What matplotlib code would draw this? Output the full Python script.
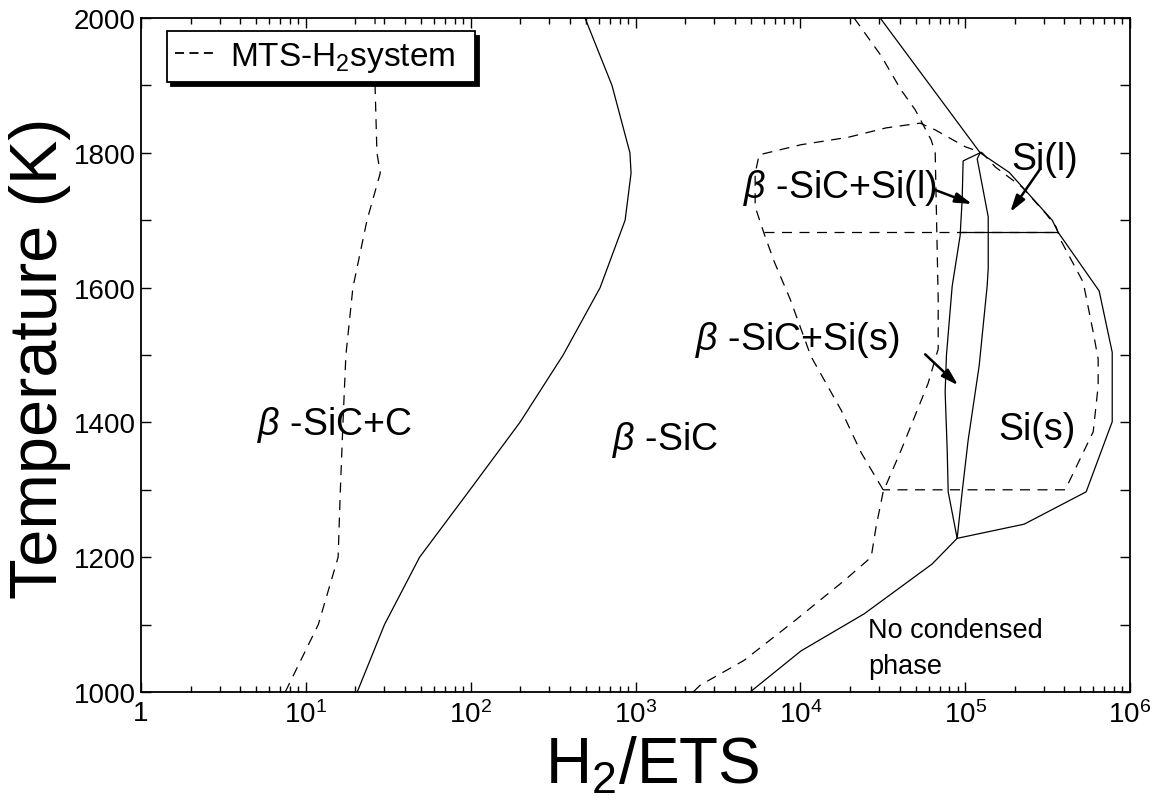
import matplotlib
matplotlib.use('Agg')
import matplotlib.pyplot as plt
from matplotlib.lines import Line2D
from matplotlib.ticker import LogLocator, NullFormatter, FixedLocator, FixedFormatter

plt.rcParams['font.family'] = ['Liberation Sans', 'DejaVu Sans']
plt.rcParams['mathtext.fontset'] = 'custom'
plt.rcParams['mathtext.rm'] = 'Liberation Sans'
plt.rcParams['mathtext.it'] = 'Liberation Sans:italic'
plt.rcParams['mathtext.bf'] = 'Liberation Sans:bold'

# ---------------- data (T in K, x = H2/ETS) ----------------
# H2-ETS system (solid lines)
c_bound_T = [1000, 1100, 1200, 1300, 1400, 1500, 1600, 1700, 1770, 1800, 1900, 2000]
c_bound_x = [20.5, 30, 49, 99, 199, 364, 610, 865, 940, 925, 720, 494]

outer_T = [2000, 1800, 1771, 1700, 1682, 1595, 1504, 1401, 1297, 1249, 1228, 1190, 1116, 1061, 1000]
outer_x = [30500, 123300, 184900, 337400, 366600, 650000, 780000, 780000, 542000, 228000, 89400, 63100, 24400, 10100, 4960]

inner_left_T = [1800, 1788, 1731, 1677, 1602, 1500, 1445, 1359, 1297, 1228]
inner_left_x = [123300, 97200, 95900, 93200, 83400, 77000, 75600, 77800, 78900, 89400]

inner_right_T = [1800, 1791, 1705, 1628, 1602, 1484, 1374, 1297, 1228]
inner_right_x = [123300, 118300, 138000, 138000, 135900, 121600, 104300, 95900, 89400]

melt_T = [1683, 1683]
melt_x = [93200, 366600]

# MTS-H2 system (dashed lines)
mts_c_T = [1000, 1100, 1200, 1300, 1400, 1500, 1600, 1700, 1770, 1800, 1900, 2000]
mts_c_x = [7.5, 11.9, 15.7, 16.2, 16.8, 17.5, 19.3, 23.5, 28.3, 27.0, 26.3, 26.3]

mts_nc_T = [2000, 1944, 1893, 1864, 1819, 1800, 1583, 1509, 1458, 1359, 1297, 1245, 1200, 1165, 1105, 1047, 1010, 1000]
mts_nc_x = [21200, 30900, 40900, 49700, 62200, 65800, 68600, 68600, 59600, 40900, 31800, 28800, 26900, 18400, 9170, 4560, 2466, 2238]

mts_si_T = [1300, 1355, 1418, 1498, 1583, 1639, 1680, 1720, 1769, 1797, 1812, 1823, 1837, 1844, 1834, 1809,
            1800, 1779, 1749, 1709, 1690, 1672, 1608, 1534, 1494, 1454, 1386, 1300, 1300]
mts_si_x = [31800, 23400, 17700, 11600, 8670, 6930, 6030, 5320, 5320, 5620, 10100, 19500, 33200, 53300, 65800, 100000,
            126800, 152200, 221800, 310400, 356600, 376700, 520000, 598000, 641000, 641000, 598000, 404400, 31800]

mts_melt_T = [1683, 1683]
mts_melt_x = [6030, 356600]

# region labels
labels_txt = [r'$\beta$ -SiC+C', r'$\beta$ -SiC', r'$\beta$ -SiC+Si(l)', r'$\beta$ -SiC+Si(s)', 'Si(l)', 'Si(s)']
labels_x = [15.0, 1510, 17400, 9550, 305000, 274000]
labels_T = [1398, 1375, 1749, 1524, 1791, 1390]

arrow_tail_x = [64000, 285000, 57200]
arrow_tail_T = [1746, 1776, 1501]
arrow_head_x = [110300, 187500, 90700]
arrow_head_T = [1724, 1712, 1455]

xtick_vals = [1, 10, 100, 1e3, 1e4, 1e5, 1e6]
xtick_labels = ['1', r'$10^{1}$', r'$10^{2}$', r'$10^{3}$', r'$10^{4}$', r'$10^{5}$', r'$10^{6}$']
ytick_vals = list(range(1000, 2001, 100))
ytick_labels = [str(v) if v % 200 == 0 else '' for v in ytick_vals]

# ---------------- figure ----------------
W, H = 1156, 812
fig = plt.figure(figsize=(W / 100, H / 100), dpi=100)
ax = fig.add_axes([141 / W, 1 - 693 / H, (1130 - 141) / W, (693 - 19) / H])

solid = dict(color='k', lw=0.9)
dash = dict(color='k', lw=0.9, ls=(0, (8, 6)))

ax.plot(c_bound_x, c_bound_T, **solid)
ax.plot(outer_x, outer_T, **solid)
ax.plot(inner_left_x, inner_left_T, **solid)
ax.plot(inner_right_x, inner_right_T, **solid)
ax.plot(melt_x, melt_T, **solid)

ax.plot(mts_c_x, mts_c_T, **dash)
ax.plot(mts_nc_x, mts_nc_T, **dash)
ax.plot(mts_si_x, mts_si_T, **dash)
ax.plot(mts_melt_x, mts_melt_T, **dash)

ax.set_xscale('log')
ax.set_xlim(1, 1e6)
ax.set_ylim(1000, 2000)

ax.xaxis.set_major_locator(FixedLocator(xtick_vals))
ax.xaxis.set_major_formatter(FixedFormatter(xtick_labels))
ax.xaxis.set_minor_locator(LogLocator(base=10, subs=range(2, 10), numticks=20))
ax.xaxis.set_minor_formatter(NullFormatter())
ax.yaxis.set_major_locator(FixedLocator(ytick_vals))
ax.yaxis.set_major_formatter(FixedFormatter(ytick_labels))

ax.tick_params(which='both', direction='in', top=True, right=True, width=1.0)
ax.tick_params(which='major', length=7, labelsize=20, pad=6)
ax.tick_params(which='minor', length=4)
ax.tick_params(axis='y', pad=4)
for s in ax.spines.values():
    s.set_linewidth(1.3)

ax.set_xlabel(r'H$_2$/ETS', fontsize=46, va='center')
ax.xaxis.set_label_coords(0.517, -0.108)
ax.set_ylabel('Temperature (K)', fontsize=48, va='center')
ax.yaxis.set_label_coords(-0.102, 0.497)

for t, x, T in zip(labels_txt, labels_x, labels_T):
    ax.text(x, T, t, fontsize=27, ha='center', va='center')

ax.text(25900, 1112, 'No condensed\nphase', fontsize=19.5, ha='left', va='top', linespacing=1.5)

for tx, tT, hx, hT in zip(arrow_tail_x, arrow_tail_T, arrow_head_x, arrow_head_T):
    ax.annotate('', xy=(hx, hT), xytext=(tx, tT),
                arrowprops=dict(arrowstyle='-|>,head_length=1.0,head_width=0.3',
                                color='k', lw=1.8, shrinkA=0, shrinkB=0))

h = Line2D([], [], color='k', lw=1.3, ls=(0, (5, 3)))
leg = ax.legend([h], [r'MTS-H$_2$system  '], loc='upper left', bbox_to_anchor=(0.026, 0.98),
                borderaxespad=0, fancybox=False, framealpha=1, edgecolor='k', fontsize=24,
                handlelength=1.3, handletextpad=0.35, borderpad=0.25,
                shadow={'color': 'k', 'alpha': 1, 'ox': 3.0, 'oy': -3.0})
leg.get_frame().set_linewidth(1.3)
leg.set_zorder(10)

fig.savefig('out.png', dpi=100)
